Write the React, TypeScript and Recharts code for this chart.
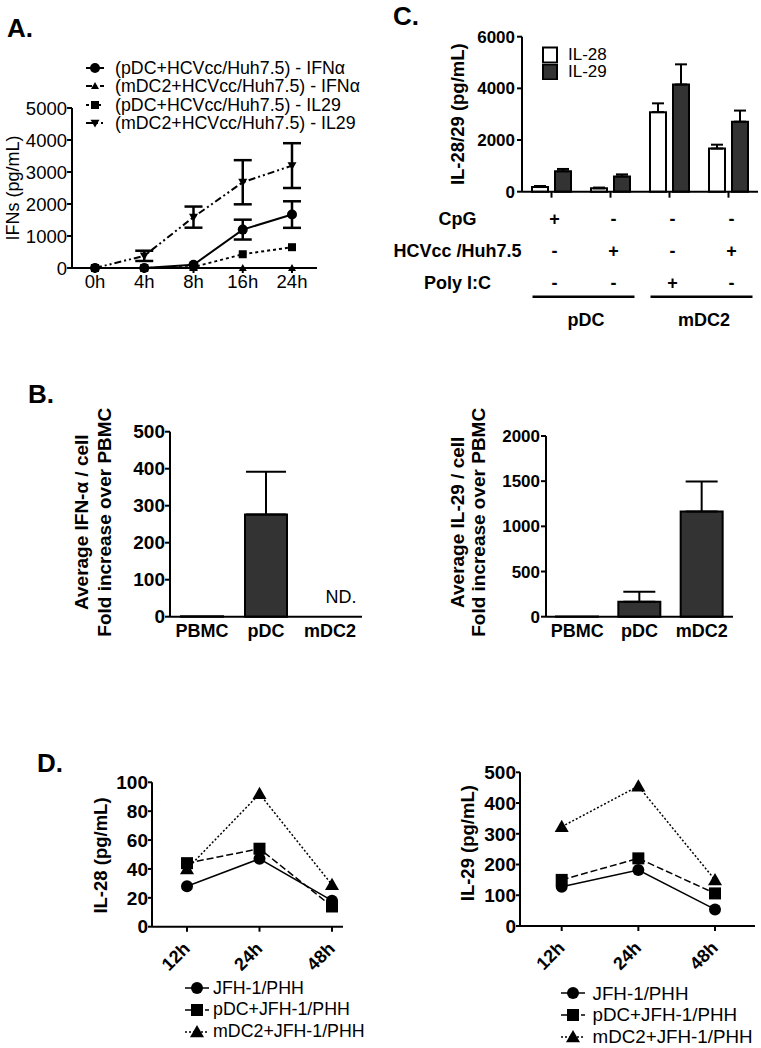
import React from 'react';
import { LineChart, Line, BarChart, Bar, XAxis, YAxis, ErrorBar, Legend, ReferenceDot } from 'recharts';

const FONT = '"Liberation Sans", Arial, Helvetica, sans-serif';
const DARK = '#333333';

// A. IFN production over time
const timesA = ['0h', '4h', '8h', '16h', '24h'];
const pdcIfnA = [0, 0, 100, 1200, 1670];
const pdcIfnErrA = [0, 0, 0, 310, 415];
const mdcIfnA = [0, 0, 0, 0, 0];
const pdcIl29A = [0, 0, 30, 430, 650];
const mdcIl29A = [0, 380, 1590, 2680, 3200];
const mdcIl29ErrA = [0, 160, 330, 690, 700];
const yTicksA = [0, 1000, 2000, 3000, 4000, 5000];

// B. fold increase per cell over PBMC
const cellsB = ['PBMC', 'pDC', 'mDC2'];
const ifnFoldB = [1, 276, 0];
const ifnFoldErrB = [0, 116, 0];
const ifnNoteB = ['', '', 'ND.'];
const il29FoldB = [1, 166, 1165];
const il29FoldErrB = [0, 111, 330];
const yTicksB1 = [0, 100, 200, 300, 400, 500];
const yTicksB2 = [0, 500, 1000, 1500, 2000];

// C. IL-28 / IL-29 by stimulation
const condC = ['pDC CpG', 'pDC HCVcc', 'mDC2 Poly I:C', 'mDC2 HCVcc'];
const cellC = ['pDC', 'pDC', 'mDC2', 'mDC2'];
const rowNamesC = ['CpG', 'HCVcc /Huh7.5', 'Poly I:C'];
const cpgC = ['+', '-', '-', '-'];
const hcvC = ['-', '+', '-', '+'];
const polyC = ['-', '-', '+', '-'];
const il28C = [180, 130, 3080, 1670];
const il28ErrC = [40, 30, 340, 150];
const il29C = [790, 590, 4150, 2710];
const il29ErrC = [90, 80, 780, 430];
const yTicksC = [0, 2000, 4000, 6000];

// D. primary human hepatocytes
const timesD = ['12h', '24h', '48h'];
const il28JfhD = [28, 47, 18];
const il28PdcD = [44, 54, 14];
const il28MdcD = [40, 92, 29];
const il29JfhD = [128, 182, 54];
const il29PdcD = [150, 220, 106];
const il29MdcD = [323, 455, 150];
const yTicksD1 = [0, 20, 40, 60, 80, 100];
const yTicksD2 = [0, 100, 200, 300, 400, 500];

const dataA = timesA.map((time, i) => ({
  time,
  pdcIfn: pdcIfnA[i],
  pdcIfnErr: pdcIfnErrA[i] || null,
  mdcIfn: mdcIfnA[i],
  pdcIl29: pdcIl29A[i],
  mdcIl29: mdcIl29A[i],
  mdcIl29Err: mdcIl29ErrA[i] || null,
}));

const dataB1 = cellsB.map((cell, i) => ({
  cell,
  fold: ifnFoldB[i],
  err: ifnFoldErrB[i] ? [0, ifnFoldErrB[i]] : null,
}));

const dataB2 = cellsB.map((cell, i) => ({
  cell,
  fold: il29FoldB[i],
  err: il29FoldErrB[i] ? [0, il29FoldErrB[i]] : null,
}));

const dataC = condC.map((cond, i) => ({
  cond,
  il28: il28C[i],
  il28Err: [0, il28ErrC[i]],
  il29: il29C[i],
  il29Err: [0, il29ErrC[i]],
}));

const dataD1 = timesD.map((time, i) => ({ time, jfh: il28JfhD[i], pdc: il28PdcD[i], mdc: il28MdcD[i] }));
const dataD2 = timesD.map((time, i) => ({ time, jfh: il29JfhD[i], pdc: il29PdcD[i], mdc: il29MdcD[i] }));

const seriesA = [
  { key: 'pdcIfn', err: 'pdcIfnErr', name: '(pDC+HCVcc/Huh7.5) - IFN\u03b1', dash: undefined, shape: 'circle', size: 10 },
  { key: 'mdcIfn', err: null, name: '(mDC2+HCVcc/Huh7.5) - IFN\u03b1', dash: '6 3 2 3', shape: 'up', size: 8 },
  { key: 'pdcIl29', err: null, name: '(pDC+HCVcc/Huh7.5) - IL29', dash: '3 3', shape: 'square', size: 8 },
  { key: 'mdcIl29', err: 'mdcIl29Err', name: '(mDC2+HCVcc/Huh7.5) - IL29', dash: '7 3 2 3 2 3', shape: 'down', size: 9 },
];

const seriesD = [
  { key: 'jfh', name: 'JFH-1/PHH', dash: undefined, shape: 'circle', size: 12 },
  { key: 'pdc', name: 'pDC+JFH-1/PHH', dash: '7 3', shape: 'square', size: 12 },
  { key: 'mdc', name: 'mDC2+JFH-1/PHH', dash: '2 2', shape: 'up', size: 14 },
];

const barsC = [
  { key: 'il28', err: 'il28Err', name: 'IL-28', fill: '#ffffff' },
  { key: 'il29', err: 'il29Err', name: 'IL-29', fill: DARK },
];

const axisStyle = { stroke: '#000', strokeWidth: 2 };

function Marker({ cx, cy, shape, size }: any) {
  if (cx == null || cy == null) return null;
  const h = size / 2;
  if (shape === 'circle') return <circle cx={cx} cy={cy} r={h} fill="#000" />;
  if (shape === 'square') return <rect x={cx - h} y={cy - h} width={size} height={size} fill="#000" />;
  if (shape === 'up')
    return <polygon points={`${cx},${cy - h} ${cx + h},${cy + h * 0.75} ${cx - h},${cy + h * 0.75}`} fill="#000" />;
  return <polygon points={`${cx},${cy + h} ${cx + h},${cy - h * 0.75} ${cx - h},${cy - h * 0.75}`} fill="#000" />;
}

function AxisTitle({ viewBox, lines, dx, dy = 0, gap = 23, size = 18, weight = 'bold' }: any) {
  const vb = viewBox || { x: 0, y: 0, width: 0, height: 0 };
  const cy = vb.y + vb.height / 2 + dy;
  return (
    <g>
      {lines.map((t: string, k: number) => {
        const cx = vb.x + dx + k * gap;
        return (
          <text
            key={k}
            x={cx}
            y={cy}
            transform={`rotate(-90 ${cx} ${cy})`}
            textAnchor="middle"
            dominantBaseline="central"
            fontSize={size}
            fontWeight={weight}
            fill="#000"
          >
            {t}
          </text>
        );
      })}
    </g>
  );
}

function LineLegend({ payload, series, fontSize, rowHeight, sample, gap, strokeWidth }: any) {
  const items = payload || [];
  return (
    <div style={{ fontFamily: FONT, fontSize, lineHeight: `${rowHeight}px`, color: '#000', whiteSpace: 'nowrap' }}>
      {series.map((s: any) => {
        const entry = items.find((p: any) => p.dataKey === s.key);
        return (
          <div key={s.key} style={{ display: 'flex', alignItems: 'center', height: rowHeight }}>
            <svg width={sample} height={16} style={{ display: 'block', overflow: 'visible' }}>
              <line x1={0} x2={sample} y1={8} y2={8} stroke="#000" strokeWidth={strokeWidth} strokeDasharray={s.dash} />
              <Marker cx={sample / 2} cy={8} shape={s.shape} size={s.size} />
            </svg>
            <span style={{ marginLeft: gap }}>{entry ? entry.value : s.name}</span>
          </div>
        );
      })}
    </div>
  );
}

function BarLegend({ payload }: any) {
  const items = payload || [];
  return (
    <div style={{ fontFamily: FONT, fontSize: 17, lineHeight: '17px', color: '#000', whiteSpace: 'nowrap' }}>
      {barsC.map((b) => {
        const entry = items.find((p: any) => p.dataKey === b.key);
        return (
          <div key={b.key} style={{ display: 'flex', alignItems: 'center', height: 17 }}>
            <svg width={16} height={17} style={{ display: 'block' }}>
              <rect x={1} y={1.5} width={14} height={15} fill={b.fill} stroke="#000" strokeWidth={2} />
            </svg>
            <span style={{ marginLeft: 10 }}>{entry ? entry.value : b.name}</span>
          </div>
        );
      })}
    </div>
  );
}

function StimulusTick(props: any) {
  const { x, y, payload } = props;
  const i = props.index ?? payload.index;
  const band = payload && payload.offset ? payload.offset * 2 : 58;
  const axisY = y - 8;
  const rows = [cpgC, hcvC, polyC];
  const groupStart = i === 0 || cellC[i] !== cellC[i - 1];
  return (
    <g fontSize={18} fontWeight="bold" fill="#000">
      {rows.map((row, k) => (
        <text key={k} x={x + 3} y={axisY + 33 + k * 32} textAnchor="middle" fill="#000">
          {row[i]}
        </text>
      ))}
      {i === 0 &&
        rowNamesC.map((name, k) => (
          <text key={'n' + k} x={x - 94} y={axisY + 33 + k * 32} textAnchor="middle" fill="#000">
            {name}
          </text>
        ))}
      {groupStart && (
        <g>
          <line x1={x - 19} x2={x + band + 24} y1={axisY + 105} y2={axisY + 105} stroke="#000" strokeWidth={2.5} />
          <text x={x + band / 2 + 5} y={axisY + 134} textAnchor="middle" fill="#000">
            {cellC[i]}
          </text>
        </g>
      )}
    </g>
  );
}

function SlantTick({ x, y, payload }: any) {
  const ax = x + 4;
  const ay = y + 16;
  return (
    <text x={ax} y={ay} transform={`rotate(-45 ${ax} ${ay})`} textAnchor="end" fontSize={18} fontWeight="bold" fill="#000">
      {payload.value}
    </text>
  );
}

function NoteLabel({ viewBox, text }: any) {
  if (!viewBox) return null;
  const cx = viewBox.x + viewBox.width / 2;
  return (
    <text x={cx + 11} y={viewBox.y + viewBox.height / 2 - 14} textAnchor="middle" fontSize={18} fill="#000">
      {text}
    </text>
  );
}

function PanelTitle({ text, left, top }: any) {
  return (
    <div style={{ position: 'absolute', left, top, fontSize: 26, lineHeight: '26px', fontWeight: 'bold' }}>{text}</div>
  );
}

function HepatocyteChart({ data, ticks, max, title, padding, left, top, width, height, marginTop, marginBottom, legendPos, legendFont, gap, dy }: any) {
  return (
    <div style={{ position: 'absolute', left, top }}>
      <LineChart width={width} height={height} data={data} margin={{ top: marginTop, right: 0, bottom: marginBottom, left: 0 }}>
        <XAxis
          dataKey="time"
          padding={padding}
          axisLine={axisStyle}
          tickLine={axisStyle}
          tickSize={5}
          tick={<SlantTick />}
          height={50}
          interval={0}
        />
        <YAxis
          domain={[0, max]}
          ticks={ticks}
          interval={0}
          width={132}
          axisLine={axisStyle}
          tickLine={axisStyle}
          tickSize={4}
          tickMargin={0}
          tick={{ fontSize: 19, fontWeight: 'bold', fill: '#000' }}
          label={<AxisTitle lines={[title]} dx={80} dy={dy} size={18.5} />}
        />
        <Legend
          layout="vertical"
          align="center"
          verticalAlign="middle"
          wrapperStyle={{ top: legendPos.top, left: legendPos.left, width: 'auto', height: 'auto' }}
          content={<LineLegend series={seriesD} fontSize={legendFont} rowHeight={21.7} sample={24} gap={gap} strokeWidth={1.5} />}
        />
        {seriesD.map((s) => (
          <Line
            key={s.key}
            dataKey={s.key}
            name={s.name}
            type="linear"
            stroke="#000"
            strokeWidth={1.5}
            strokeDasharray={s.dash}
            isAnimationActive={false}
            dot={(p: any) => <Marker key={`${s.key}-${p.index}`} cx={p.cx} cy={p.cy} shape={s.shape} size={s.size} />}
          />
        ))}
      </LineChart>
    </div>
  );
}

export default function App() {
  return (
    <div
      style={{
        position: 'absolute',
        left: 0,
        top: 0,
        width: 761,
        height: 1048,
        background: '#fff',
        fontFamily: FONT,
        color: '#000',
        overflow: 'hidden',
      }}
    >
      <PanelTitle text="A." left={7} top={15} />
      <PanelTitle text="C." left={393} top={3} />
      <PanelTitle text="B." left={28} top={381} />
      <PanelTitle text="D." left={37} top={750} />

      {/* A */}
      <div style={{ position: 'absolute', left: 0, top: 40 }}>
        <LineChart width={340} height={258} data={dataA} margin={{ top: 68, right: 23, bottom: 0, left: 0 }}>
          <XAxis
            dataKey="time"
            padding={{ left: 23, right: 25 }}
            axisLine={axisStyle}
            tickLine={axisStyle}
            tickSize={5}
            tick={{ fontSize: 18.5, fill: '#000' }}
            height={30}
            interval={0}
          />
          <YAxis
            domain={[0, 5000]}
            ticks={yTicksA}
            interval={0}
            width={72}
            axisLine={axisStyle}
            tickLine={axisStyle}
            tickSize={5}
            tickMargin={0}
            tick={{ fontSize: 18.5, fill: '#000' }}
            label={<AxisTitle lines={['IFNs (pg/mL)']} dx={13} size={18} weight="normal" />}
          />
          <Legend
            layout="vertical"
            align="center"
            verticalAlign="middle"
            wrapperStyle={{ top: 19, left: 86, width: 'auto', height: 'auto' }}
            content={<LineLegend series={seriesA} fontSize={17.8} rowHeight={18.3} sample={18} gap={11} strokeWidth={2} />}
          />
          {seriesA.map((s) => (
            <Line
              key={s.key}
              dataKey={s.key}
              name={s.name}
              type="linear"
              stroke="#000"
              strokeWidth={2}
              strokeDasharray={s.dash}
              isAnimationActive={false}
              dot={(p: any) => <Marker key={`${s.key}-${p.index}`} cx={p.cx} cy={p.cy} shape={s.shape} size={s.size} />}
            >
              {s.err && <ErrorBar dataKey={s.err} width={9} strokeWidth={2.5} stroke="#000" direction="y" />}
            </Line>
          ))}
        </LineChart>
      </div>

      {/* C */}
      <div style={{ position: 'absolute', left: 380, top: 0 }}>
        <BarChart width={381} height={331.7} data={dataC} margin={{ top: 36.7, right: 3, bottom: 0, left: 0 }} barSize={16} barGap={7}>
          <XAxis dataKey="cond" axisLine={axisStyle} tickLine={axisStyle} tickSize={6} tick={<StimulusTick />} height={140} interval={0} />
          <YAxis
            domain={[0, 6000]}
            ticks={yTicksC}
            interval={0}
            width={142}
            axisLine={axisStyle}
            tickLine={axisStyle}
            tickSize={5}
            tickMargin={2}
            tick={{ fontSize: 17, fontWeight: 'bold', fill: '#000' }}
            label={<AxisTitle lines={['IL-28/29 (pg/mL)']} dx={78} size={18.5} />}
          />
          <Legend
            layout="vertical"
            align="center"
            verticalAlign="middle"
            wrapperStyle={{ top: 46, left: 162, width: 'auto', height: 'auto' }}
            content={<BarLegend />}
          />
          {barsC.map((b) => (
            <Bar key={b.key} dataKey={b.key} name={b.name} fill={b.fill} stroke="#000" strokeWidth={2} isAnimationActive={false}>
              <ErrorBar dataKey={b.err} width={6} strokeWidth={2} stroke="#000" direction="y" />
            </Bar>
          ))}
        </BarChart>
      </div>

      {/* B left */}
      <div style={{ position: 'absolute', left: 20, top: 390 }}>
        <BarChart width={342} height={256.7} data={dataB1} margin={{ top: 41.7, right: 0, bottom: 0, left: 0 }} barSize={42}>
          <XAxis dataKey="cell" axisLine={axisStyle} tickLine={false} tick={{ fontSize: 18, fontWeight: 'bold', fill: '#000' }} height={30} interval={0} />
          <YAxis
            domain={[0, 500]}
            ticks={yTicksB1}
            interval={0}
            width={150}
            axisLine={axisStyle}
            tickLine={axisStyle}
            tickSize={5}
            tickMargin={0}
            tick={{ fontSize: 19, fontWeight: 'bold', fill: '#000' }}
            label={<AxisTitle lines={['Average IFN-\u03b1 / cell', 'Fold increase over PBMC']} dx={62} dy={-2} gap={23} size={19} />}
          />
          <Bar dataKey="fold" fill={DARK} stroke="#000" strokeWidth={2} isAnimationActive={false}>
            <ErrorBar dataKey="err" width={20} strokeWidth={2} stroke="#000" direction="y" />
          </Bar>
          {ifnNoteB.map((note, i) =>
            note ? (
              <ReferenceDot
                key={cellsB[i]}
                x={cellsB[i]}
                y={ifnFoldB[i]}
                r={1}
                fill="none"
                stroke="none"
                label={<NoteLabel text={note} />}
              />
            ) : null,
          )}
        </BarChart>
      </div>

      {/* B right */}
      <div style={{ position: 'absolute', left: 420, top: 390 }}>
        <BarChart width={313} height={256.7} data={dataB2} margin={{ top: 46, right: 0, bottom: 0, left: 0 }} barSize={42}>
          <XAxis dataKey="cell" axisLine={axisStyle} tickLine={false} tick={{ fontSize: 18, fontWeight: 'bold', fill: '#000' }} height={30} interval={0} />
          <YAxis
            domain={[0, 2000]}
            ticks={yTicksB2}
            interval={0}
            width={126}
            axisLine={axisStyle}
            tickLine={axisStyle}
            tickSize={5}
            tickMargin={1}
            tick={{ fontSize: 17, fontWeight: 'bold', fill: '#000' }}
            label={<AxisTitle lines={['Average IL-29 / cell', 'Fold increase over PBMC']} dx={38} dy={-4} gap={21} size={19} />}
          />
          <Bar dataKey="fold" fill={DARK} stroke="#000" strokeWidth={2} isAnimationActive={false}>
            <ErrorBar dataKey="err" width={16} strokeWidth={2} stroke="#000" direction="y" />
          </Bar>
        </BarChart>
      </div>

      {/* D */}
      <HepatocyteChart
        data={dataD1}
        ticks={yTicksD1}
        max={100}
        title="IL-28 (pg/mL)"
        padding={{ left: 35, right: 11 }}
        left={20}
        top={760}
        width={323}
        height={285}
        marginTop={22.3}
        marginBottom={68.3}
        legendPos={{ top: 217.5, left: 165 }}
        legendFont={17.8}
        gap={4}
        dy={1}
      />
      <HepatocyteChart
        data={dataD2}
        ticks={yTicksD2}
        max={500}
        title="IL-29 (pg/mL)"
        padding={{ left: 41.7, right: 40 }}
        left={388}
        top={750}
        width={367}
        height={295}
        marginTop={22.3}
        marginBottom={69}
        legendPos={{ top: 232.5, left: 173 }}
        legendFont={18.8}
        gap={7.5}
        dy={-6}
      />
    </div>
  );
}
